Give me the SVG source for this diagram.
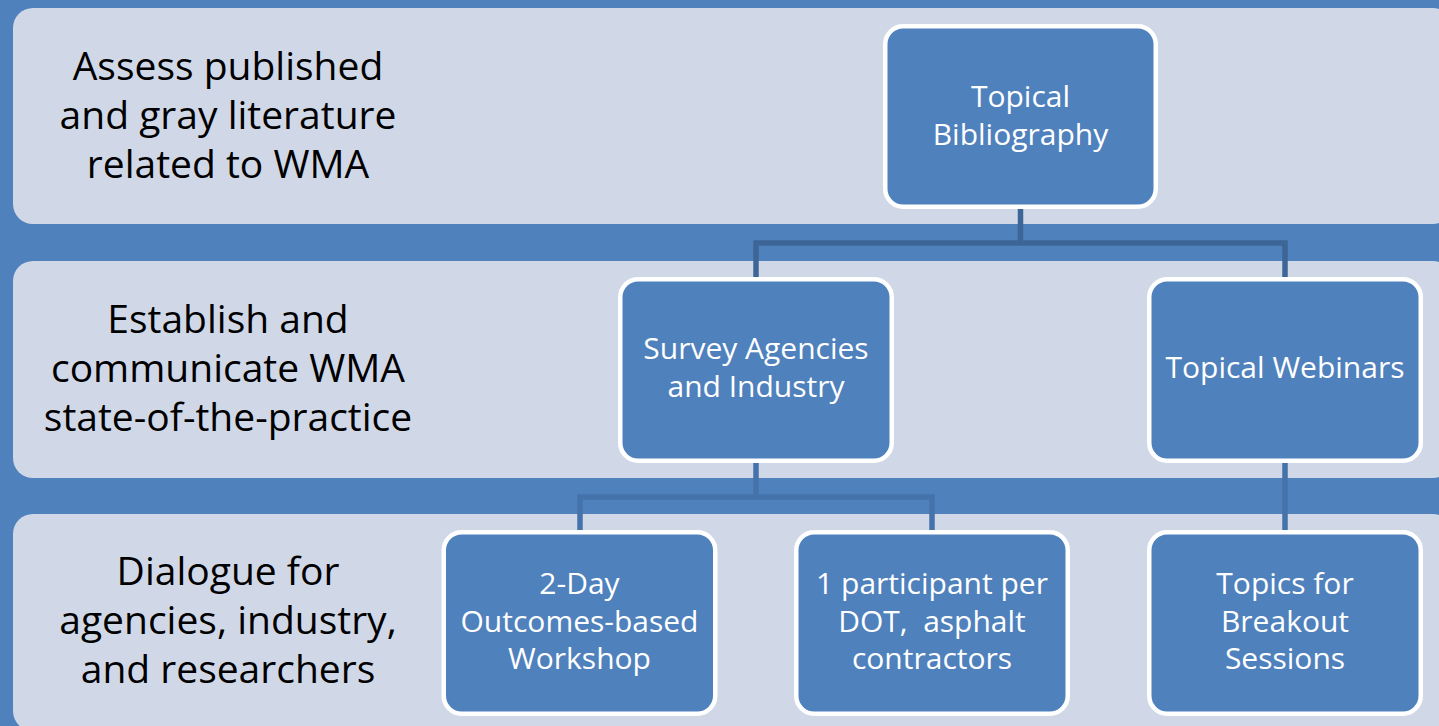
<svg xmlns="http://www.w3.org/2000/svg" width="1439" height="726" viewBox="0 0 1439 726">
<style>
.band{fill:#D0D8E8;}
.box{fill:#4F81BD;stroke:#FFFFFF;stroke-width:4.5;}
.lbl{font-family:"Open Sans",Lato,"Liberation Sans",sans-serif;font-size:39px;fill:#000000;text-anchor:middle;}
.ntx{font-family:"Open Sans",Lato,"Liberation Sans",sans-serif;font-size:30px;fill:#FFFFFF;text-anchor:middle;}
.conA{fill:none;stroke:#3D6696;stroke-width:5.5;stroke-linejoin:miter;}
.conB{fill:none;stroke:#4472AA;stroke-width:5.5;stroke-linejoin:miter;}
</style>
<rect x="0" y="0" width="1439" height="726" fill="#4F81BD"/>
<g id="band1">
<rect class="band" x="13" y="8" width="1440" height="216" rx="20"/>
<text class="lbl" x="228" y="80">Assess published</text>
<text class="lbl" x="228" y="129">and gray literature</text>
<text class="lbl" x="228" y="178">related to WMA</text>
</g>
<g id="band2">
<rect class="band" x="13" y="261" width="1440" height="217" rx="20"/>
<text class="lbl" x="228" y="333">Establish and</text>
<text class="lbl" x="228" y="382">communicate WMA</text>
<text class="lbl" x="228" y="431">state-of-the-practice</text>
</g>
<g id="band3">
<rect class="band" x="13" y="514" width="1440" height="217" rx="20"/>
<text class="lbl" x="228" y="585">Dialogue for</text>
<text class="lbl" x="228" y="634">agencies, industry,</text>
<text class="lbl" x="228" y="683">and researchers</text>
</g>
<g id="connectors">
<path class="conA" d="M1020.5 209 V243 M756 277 V243 H1285 V277"/>
<path class="conB" d="M756 463 V497 M580 530 V497 H932 V530"/>
<path class="conB" d="M1285 463 V530"/>
</g>
<g id="node-bibliography">
<rect class="box" x="885.25" y="26.25" width="270.5" height="180.5" rx="18"/>
<text class="ntx" x="1020.5" y="107">Topical</text>
<text class="ntx" x="1020.5" y="145">Bibliography</text>
</g>
<g id="node-survey">
<rect class="box" x="620.25" y="279.25" width="271.5" height="181.5" rx="18"/>
<text class="ntx" x="756" y="359">Survey Agencies</text>
<text class="ntx" x="756" y="397">and Industry</text>
</g>
<g id="node-webinars">
<rect class="box" x="1149.25" y="279.25" width="271.5" height="181.5" rx="18"/>
<text class="ntx" x="1285" y="378">Topical Webinars</text>
</g>
<g id="node-workshop">
<rect class="box" x="443.75" y="532.25" width="271.5" height="181.5" rx="18"/>
<text class="ntx" x="579.5" y="594">2-Day</text>
<text class="ntx" x="579.5" y="632">Outcomes-based</text>
<text class="ntx" x="579.5" y="669">Workshop</text>
</g>
<g id="node-participants">
<rect class="box" x="796.25" y="532.25" width="271.5" height="181.5" rx="18"/>
<text class="ntx" x="932" y="594">1 participant per</text>
<text class="ntx" x="932" y="632">DOT,&#160; asphalt</text>
<text class="ntx" x="932" y="669">contractors</text>
</g>
<g id="node-topics">
<rect class="box" x="1149.25" y="532.25" width="271.5" height="181.5" rx="18"/>
<text class="ntx" x="1285" y="594">Topics for</text>
<text class="ntx" x="1285" y="632">Breakout</text>
<text class="ntx" x="1285" y="669">Sessions</text>
</g>
</svg>
